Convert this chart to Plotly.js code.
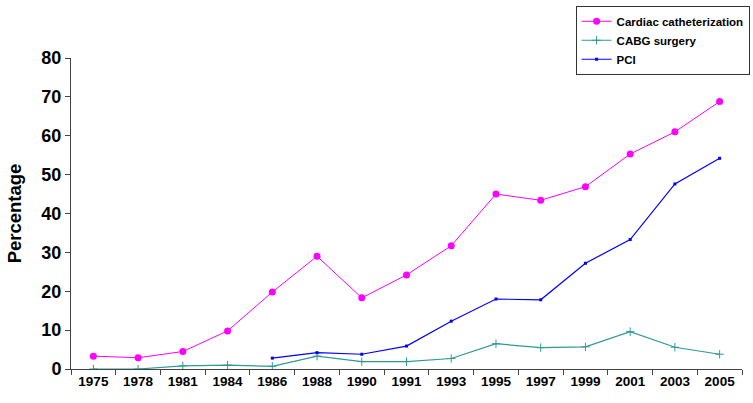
<!DOCTYPE html>
<html>
<head>
<meta charset="utf-8">
<script src="https://cdn.plot.ly/plotly-3.0.1.min.js"></script>
<style>html,body{margin:0;padding:0;background:#fff;}#chart{width:753px;height:403px;}</style>
</head>
<body>
<div id="chart"></div>
<script>
const years = ['1975','1978','1981','1984','1986','1988','1990','1991','1993','1995','1997','1999','2001','2003','2005'];
const cardiacCath = [3.3, 2.9, 4.5, 9.8, 19.8, 29.0, 18.3, 24.2, 31.7, 45.0, 43.4, 46.9, 55.3, 61.0, 68.8];
const cabgSurgery = [0, 0, 0.8, 1.0, 0.7, 3.3, 1.9, 1.9, 2.7, 6.5, 5.5, 5.7, 9.6, 5.6, 3.8];
const pci = [null, null, null, null, 2.8, 4.2, 3.8, 5.9, 12.3, 18.0, 17.8, 27.2, 33.3, 47.6, 54.2];
const yTicks = [0, 10, 20, 30, 40, 50, 60, 70, 80];

const FONT = 'Liberation Sans, Arial, sans-serif';
const traces = [
  {x: years, y: cardiacCath, name: 'Cardiac catheterization', type: 'scatter', mode: 'lines+markers',
   line: {color: '#FF00FF', width: 1}, marker: {color: '#FF00FF', size: 7, symbol: 'circle'}},
  {x: years, y: cabgSurgery, name: 'CABG surgery', type: 'scatter', mode: 'lines+markers',
   line: {color: '#2E9A96', width: 1.2}, marker: {color: '#2E9A96', size: 6, symbol: 'cross-thin', line: {color: '#2E9A96', width: 1}}},
  {x: years, y: pci, name: 'PCI', type: 'scatter', mode: 'lines+markers',
   line: {color: '#0000FF', width: 1.2}, marker: {color: '#0000FF', size: 3, symbol: 'square'}}
];

const layout = {
  width: 753, height: 403,
  margin: {l: 71, r: 11, t: 58, b: 34, autoexpand: false},
  paper_bgcolor: '#fff', plot_bgcolor: '#fff',
  font: {family: FONT, color: '#000'},
  showlegend: true,
  legend: {x: 0.752, y: 1.168, xanchor: 'left', yanchor: 'top', bordercolor: '#333', borderwidth: 1,
           bgcolor: '#fff', font: {size: 11.5, family: FONT, weight: 'bold'},
           tracegroupgap: 0, itemwidth: 30},
  xaxis: {type: 'category', tickvals: years, ticktext: years, tickson: 'boundaries', ticks: 'outside', ticklen: 5,
          tickcolor: '#444', showline: true, linecolor: '#444', linewidth: 1, showgrid: false, zeroline: false,
          range: [-0.5, years.length - 0.5],
          tickfont: {size: 13.5, family: FONT, weight: 'bold'}},
  yaxis: {range: [0, 80], tickvals: yTicks, ticks: 'outside', ticklen: 5, tickcolor: '#444', showline: true,
          linecolor: '#444', linewidth: 1, showgrid: false, zeroline: false,
          tickfont: {size: 18, family: FONT, weight: 'bold'},
          title: {text: 'Percentage', font: {size: 18.5, family: FONT, weight: 'bold'}, standoff: 14}}
};

Plotly.newPlot('chart', traces, layout, {displayModeBar: false, staticPlot: true});
</script>
</body>
</html>
